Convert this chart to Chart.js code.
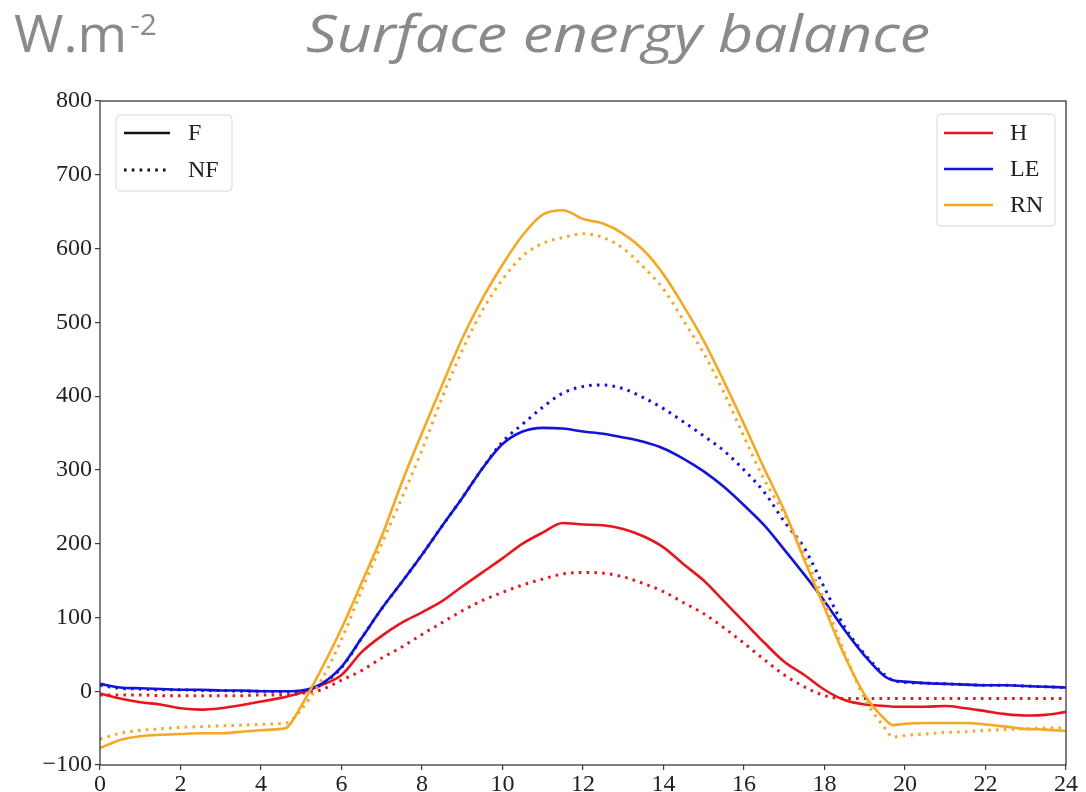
<!DOCTYPE html>
<html>
<head>
<meta charset="utf-8">
<script src="https://cdn.jsdelivr.net/npm/chart.js@4.4.1/dist/chart.umd.min.js"></script>
<style>
  html, body { margin: 0; padding: 0; background: #fff; }
  #wrap { position: relative; width: 1086px; height: 792px; overflow: hidden; }
  #chart { position: absolute; left: 0; top: 0; }
  .head { position: absolute; color: #8a8a8a; font-family: "Open Sans", "Noto Sans", sans-serif;
          font-size: 52px; line-height: 52px; white-space: nowrap; transform-origin: 0 0; }
  #unit { left: 14px; top: 6px; transform: scaleX(1.03); }
  #unit sup { font-size: 29px; position: relative; top: 3px; left: 3px; vertical-align: top; line-height: 29px; }
  #title { left: 306px; top: 6px; font-style: italic; transform: scaleX(1.17); }
</style>
</head>
<body>
<div id="wrap">
  <canvas id="chart" width="1086" height="792"></canvas>
  <div class="head" id="unit">W.m<sup>-2</sup></div>
  <div class="head" id="title">Surface energy balance</div>
</div>
<script>
// Hour of day (local time); extra samples at the sunrise / sunset kinks
const hours = [0,0.5,1,1.5,2,2.5,3,3.5,4,4.5,4.65,
  5,5.5,6,6.5,7,7.5,8,8.5,9,9.5,10,10.5,11,11.5,12,12.5,13,13.5,14,14.5,
  15,15.5,16,16.5,17,17.5,18,18.5,19,19.5,19.7,
  20,20.5,21,21.5,22,22.5,23,23.5,24];

// Net radiation (W m-2)
const rnF  = [-77,-66,-61,-59,-58,-57,-57,-55,-53,-51,-49,
  -20,30,85,147,210,283,350,415,478,532,578,618,646,652,640,634,620,598,565,522,
  475,420,362,302,245,178,113,48,-5,-38,-46,
  -44,-43,-43,-43,-45,-48,-51,-52,-54];
const rnNF = [-65,-57,-53,-51,-49,-48,-47,-46,-45,-44,-43,
  -25,15,70,137,200,262,327,398,462,516,558,590,607,615,620,615,600,575,545,502,
  458,405,345,287,240,185,122,52,-10,-50,-62,
  -60,-58,-56,-55,-53,-52,-51,-50,-50];

// Latent heat flux (W m-2)
const leF  = [10,5,4,3,2,2,1,1,0,0,0,
  1,10,33,72,112,148,185,224,262,302,335,352,357,356,352,349,344,338,329,315,
  298,277,252,225,192,158,122,83,48,20,15,
  13,11,10,9,8,8,7,6,5];
const leNF = [8,4,3,2,2,1,1,0,0,-1,-1,
  0,9,32,72,112,148,185,224,262,302,338,362,385,404,413,415,410,398,383,365,
  346,326,300,270,230,194,140,87,50,22,15,
  12,11,10,9,8,8,7,6,5];

// Sensible heat flux (W m-2)
const hF   = [-3,-10,-15,-18,-23,-25,-23,-19,-14,-9,-7,
  -2,8,22,53,75,93,107,122,142,161,180,200,215,228,226,225,220,210,195,172,
  150,122,94,66,40,22,2,-12,-18,-20,-21,
  -21,-21,-20,-23,-27,-31,-33,-32,-28];
const hNF  = [-5,-5,-5,-6,-6,-6,-6,-6,-5,-5,-5,
  -3,2,15,28,45,60,77,93,109,123,134,144,152,159,161,160,155,146,135,120,
  105,86,65,43,22,6,-6,-10,-10,-10,-10,
  -10,-10,-10,-10,-10,-10,-10,-10,-10];

const xTicks = [0,2,4,6,8,10,12,14,16,18,20,22,24];
const yTicks = [-100,0,100,200,300,400,500,600,700,800];

const RED = '#e8161c', BLUE = '#1414d8', ORANGE = '#f4a825';
const DOTS = [2.6, 5.2];

function series(label, values, color, dotted) {
  return {
    label,
    data: hours.map((h, i) => ({ x: h, y: values[i] })),
    borderColor: color,
    backgroundColor: color,
    borderWidth: dotted ? 3 : 2.6,
    borderDash: dotted ? DOTS : [],
    pointRadius: 0,
    cubicInterpolationMode: 'monotone',
    fill: false
  };
}

const serif = '"Liberation Serif", "DejaVu Serif", serif';

// Frame around the plot area plus the two inset legends
const framePlugin = {
  id: 'frameAndLegends',
  afterDraw(chart) {
    const { ctx, chartArea: a } = chart;
    ctx.save();
    ctx.strokeStyle = '#3a3a3a';
    ctx.lineWidth = 1.3;
    ctx.strokeRect(a.left, a.top, a.right - a.left, a.bottom - a.top);

    function box(x, y, w, h) {
      const r = 4;
      ctx.beginPath();
      ctx.moveTo(x + r, y);
      ctx.arcTo(x + w, y, x + w, y + h, r);
      ctx.arcTo(x + w, y + h, x, y + h, r);
      ctx.arcTo(x, y + h, x, y, r);
      ctx.arcTo(x, y, x + w, y, r);
      ctx.closePath();
      ctx.fillStyle = 'rgba(255,255,255,0.85)';
      ctx.fill();
      ctx.strokeStyle = '#d8d8d8';
      ctx.lineWidth = 1;
      ctx.stroke();
    }
    function entry(x1, x2, y, color, dash, width, text, tx) {
      ctx.beginPath();
      ctx.setLineDash(dash);
      ctx.strokeStyle = color;
      ctx.lineWidth = width;
      ctx.moveTo(x1, y);
      ctx.lineTo(x2, y);
      ctx.stroke();
      ctx.setLineDash([]);
      ctx.fillStyle = '#222';
      ctx.font = '24px ' + serif;
      ctx.textBaseline = 'middle';
      ctx.textAlign = 'left';
      ctx.fillText(text, tx, y + 1);
    }

    // line-style legend (upper left)
    const lx = a.left + 16, ly = a.top + 14;
    box(lx, ly, 116, 76);
    entry(lx + 8, lx + 54, ly + 18, '#111', [], 2.6, 'F', lx + 72);
    entry(lx + 8, lx + 54, ly + 55, '#111', DOTS, 3, 'NF', lx + 72);

    // flux legend (upper right)
    const rx = a.right - 129, ry = a.top + 13;
    box(rx, ry, 118, 112);
    entry(rx + 7, rx + 56, ry + 19, RED, [], 2.6, 'H', rx + 73);
    entry(rx + 7, rx + 56, ry + 55, BLUE, [], 2.6, 'LE', rx + 73);
    entry(rx + 7, rx + 56, ry + 91, ORANGE, [], 2.6, 'RN', rx + 73);
    ctx.restore();
  }
};

new Chart(document.getElementById('chart'), {
  type: 'line',
  data: {
    datasets: [
      series('RN NF', rnNF, ORANGE, true),
      series('RN F', rnF, ORANGE, false),
      series('LE NF', leNF, BLUE, true),
      series('LE F', leF, BLUE, false),
      series('H NF', hNF, RED, true),
      series('H F', hF, RED, false)
    ]
  },
  options: {
    responsive: false,
    animation: false,
    layout: { padding: { top: 101, right: 20, left: 0, bottom: 0 } },
    plugins: { legend: { display: false }, tooltip: { enabled: false } },
    scales: {
      x: {
        type: 'linear',
        min: 0, max: 24,
        afterBuildTicks: s => { s.ticks = xTicks.map(v => ({ value: v })); },
        afterFit: s => { s.height = 27; },
        border: { display: false },
        grid: { display: true, drawOnChartArea: false, drawTicks: true, tickLength: 5, color: '#3a3a3a', lineWidth: 1.2 },
        ticks: { color: '#222', font: { family: serif, size: 24 }, padding: 0, maxRotation: 0,
                 callback: v => String(v) }
      },
      y: {
        min: -100, max: 800,
        afterBuildTicks: s => { s.ticks = yTicks.map(v => ({ value: v })); },
        afterFit: s => { s.width = 100; },
        border: { display: false },
        grid: { display: true, drawOnChartArea: false, drawTicks: true, tickLength: 5, color: '#3a3a3a', lineWidth: 1.2 },
        ticks: { color: '#222', font: { family: serif, size: 24 }, padding: 3,
                 callback: v => (v < 0 ? '\u2212' + Math.abs(v) : String(v)) }
      }
    }
  },
  plugins: [framePlugin]
});
</script>
</body>
</html>
